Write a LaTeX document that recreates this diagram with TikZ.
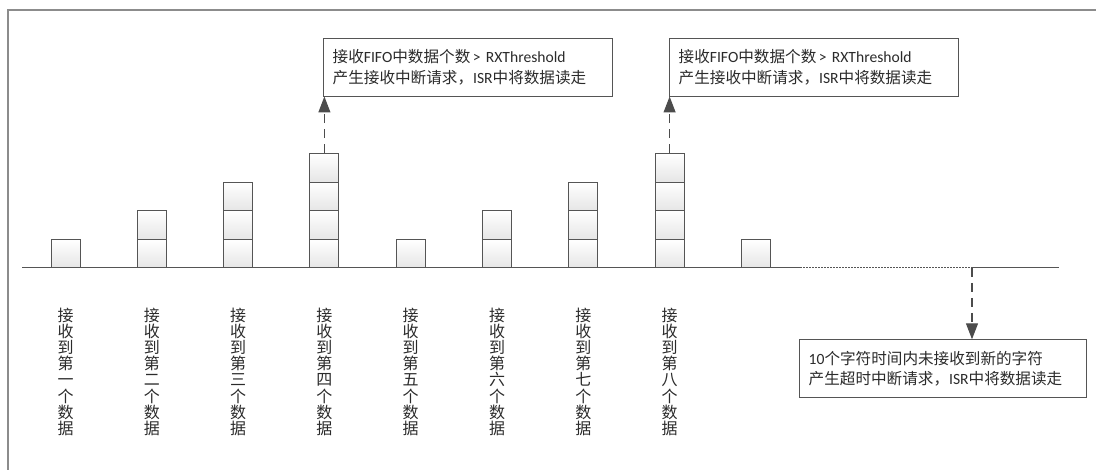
\documentclass[tikz,border=0pt]{standalone}
\usepackage{fontspec}
\setmainfont{Carlito}
\newfontfamily\cjk{Noto Sans CJK SC}
\usetikzlibrary{arrows.meta}
\definecolor{ln}{HTML}{555555}
\definecolor{tx}{HTML}{2B2B2B}
\definecolor{fr}{HTML}{8C8C8C}
\tikzset{
  cell/.style={draw=ln, line width=1pt, minimum width=29pt, minimum height=28.6pt, inner sep=0pt,
    top color=white, bottom color=black!10},
  note/.style={draw=ln, line width=0.8pt, fill=white, anchor=north west, inner xsep=9pt, inner ysep=0pt,
    align=left, text=tx, font=\fontsize{15.6pt}{20.5pt}\selectfont},
  vlab/.style={anchor=north, align=center, inner sep=0pt, text=tx,
    font=\cjk\fontsize{16pt}{16.2pt}\selectfont},
  darr/.style={draw=ln!90!black, line width=1.1pt, dash pattern=on 9pt off 6pt,
    -{Triangle[length=16pt,width=12pt]}},
}
\newcommand{\zh}[1]{{\cjk #1}}
\begin{document}
\begin{tikzpicture}[x=1pt,y=-1pt]
\useasboundingbox (0,0) rectangle (1096,470);
% frame
\draw[fr, line width=1.6pt] (8,470) -- (8,10) -- (1096,10);
% baseline
\coordinate (L) at (22,268);
\coordinate (D1) at (800,268);
\coordinate (D2) at (972,268);
\coordinate (R) at (1059,268);
\draw[ln, line width=1pt] (L) -- (D1);
\draw[ln, line width=1pt, dash pattern=on 1.5pt off 1.5pt] (D1) -- (D2);
\draw[ln, line width=1pt] (D2) -- (R);
% cells
\foreach \i/\n in {1/1,2/2,3/3,4/4,5/1,6/2,7/3,8/4,9/1}{
  \pgfmathsetmacro{\cx}{65.5+86.3*(\i-1)}
  \foreach \k in {1,...,\n}{
    \node[cell] (c\i-\k) at (\cx, 268-28.6*\k+14.3) {};
  }
}
\foreach \i/\lab in {1/一,2/二,3/三,4/四,5/五,6/六,7/七,8/八}{
  \pgfmathsetmacro{\cx}{65.5+86.3*(\i-1)}
  \node[vlab] (v\i) at (\cx,307.5) {接\\收\\到\\第\\\lab\\个\\数\\据};
}
% notes
\node[note, minimum width=289pt, minimum height=57.4pt, text width=271pt] (t1) at (323.3,38.3)
  {\zh{接收}FIFO\zh{中数据个数}\,\textgreater\ RXThreshold\\\zh{产生接收中断请求，}ISR\zh{中将数据读走}};
\node[note, minimum width=289pt, minimum height=57.4pt, text width=271pt] (t2) at (669.3,38.3)
  {\zh{接收}FIFO\zh{中数据个数}\,\textgreater\ RXThreshold\\\zh{产生接收中断请求，}ISR\zh{中将数据读走}};
\node[note, minimum width=286.7pt, minimum height=58pt, text width=268.7pt] (t3) at (799.3,339.3)
  {10\zh{个字符时间内未接收到新的字符}\\\zh{产生超时中断请求，}ISR\zh{中将数据读走}};
% arrows
\draw[darr] (c4-4.north) -- (c4-4.north |- t1.south);
\draw[darr] (c8-4.north) -- (c8-4.north |- t2.south);
\draw[darr] (D2) -- (D2 |- t3.north);
\end{tikzpicture}
\end{document}
